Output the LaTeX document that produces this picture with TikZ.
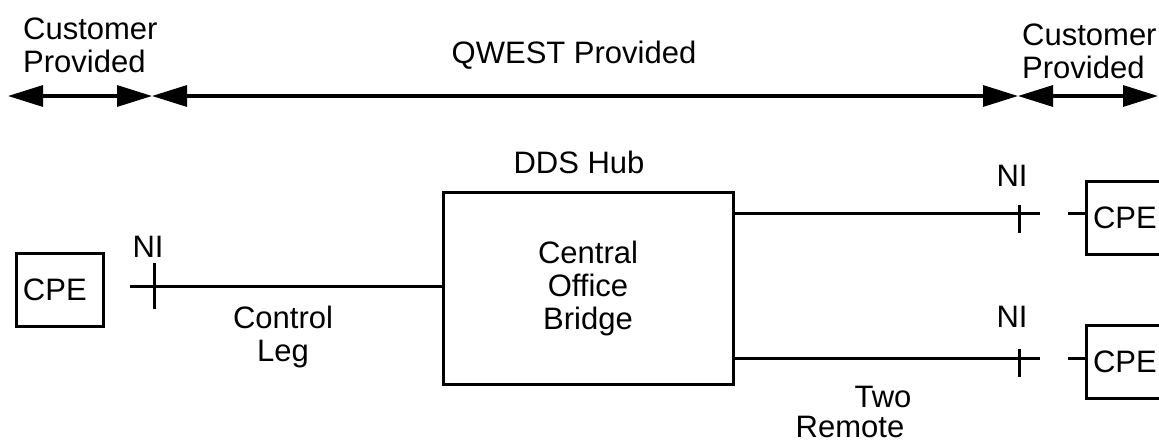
\documentclass[tikz,border=0pt]{standalone}
\usepackage{fontspec}
\setmainfont{Liberation Sans}
\usetikzlibrary{arrows.meta, positioning}
\newcommand{\lblfont}{\fontsize{31}{33}\selectfont}

\begin{document}
\begin{tikzpicture}[
  x=1pt, y=-1pt,
  every node/.style={font=\lblfont, inner sep=0pt},
  wire/.style={line width=3pt},
  spanarrow/.style={line width=3.2pt, {Triangle[length=35pt,width=21pt]}-{Triangle[length=35pt,width=21pt]}},
  cpebox/.style={draw, line width=3pt, text width=73pt, inner xsep=7pt, align=left, minimum height=73pt},
  nitick/.style={minimum width=0pt}
]
  \clip (0,0) rectangle (1159,442);

  % who provides what
  \coordinate (custL) at (8,96);
  \coordinate (qwL) at (152,96);
  \coordinate (qwR) at (1018,96);
  \coordinate (custR) at (1158,96);
  \draw[spanarrow] (custL) -- (qwL);
  \draw[spanarrow] (qwL) -- (qwR);
  \draw[spanarrow] (qwR) -- (custR);
  \node[anchor=base west, align=left] (custLtxt) at (23,72) {Customer\\Provided};
  \node[anchor=base] (qwestTxt) at (574,63) {QWEST Provided};
  \node[anchor=base west, align=left] (custRtxt) at (1022,78) {Customer\\Provided};

  % hub
  \node[draw, line width=3pt, minimum width=290pt, minimum height=192pt, align=center] (bridge) at (588,288) {Central\\Office\\Bridge};
  \node[anchor=base] (hubTxt) at (579,173) {DDS Hub};

  % control leg
  \node[cpebox] (cpeL) at (59.5,290) {CPE};
  \coordinate (stubL) at (130,286);
  \draw[wire] (stubL) -- (stubL -| bridge.west);
  \node[nitick, minimum height=46pt] (niL) at (154,286) {};
  \draw[wire] (niL.north) -- (niL.south);
  \node[anchor=base] (niLtxt) at (148,257) {NI};
  \node[anchor=base, align=center] (ctrlTxt) at (283,361) {Control\\Leg};

  % remote legs
  \node[cpebox] (cpeA) at (1129.5,218) {CPE};
  \node[cpebox] (cpeB) at (1129.5,361.5) {CPE};
  \coordinate (endA) at (1040,213);
  \coordinate (endB) at (1040,358);
  \draw[wire] (endA -| bridge.east) -- (endA);
  \draw[wire] (endB -| bridge.east) -- (endB);
  \node[nitick, minimum height=28pt] (niA) at (1019,219) {};
  \node[nitick, minimum height=28pt] (niB) at (1019,363) {};
  \draw[wire] (niA.north) -- (niA.south);
  \draw[wire] (niB.north) -- (niB.south);
  \node[anchor=base] (niAtxt) at (1012,186) {NI};
  \node[anchor=base] (niBtxt) at (1012,327) {NI};
  \coordinate (dashA) at (1068,213);
  \coordinate (dashB) at (1068,358);
  \draw[wire] (dashA) -- (dashA -| cpeA.west);
  \draw[wire] (dashB) -- (dashB -| cpeB.west);
  \node[anchor=base] (twoTxt) at (883,407) {Two};
  \node[anchor=base] (remoteTxt) at (850,437) {Remote};
\end{tikzpicture}
\end{document}
